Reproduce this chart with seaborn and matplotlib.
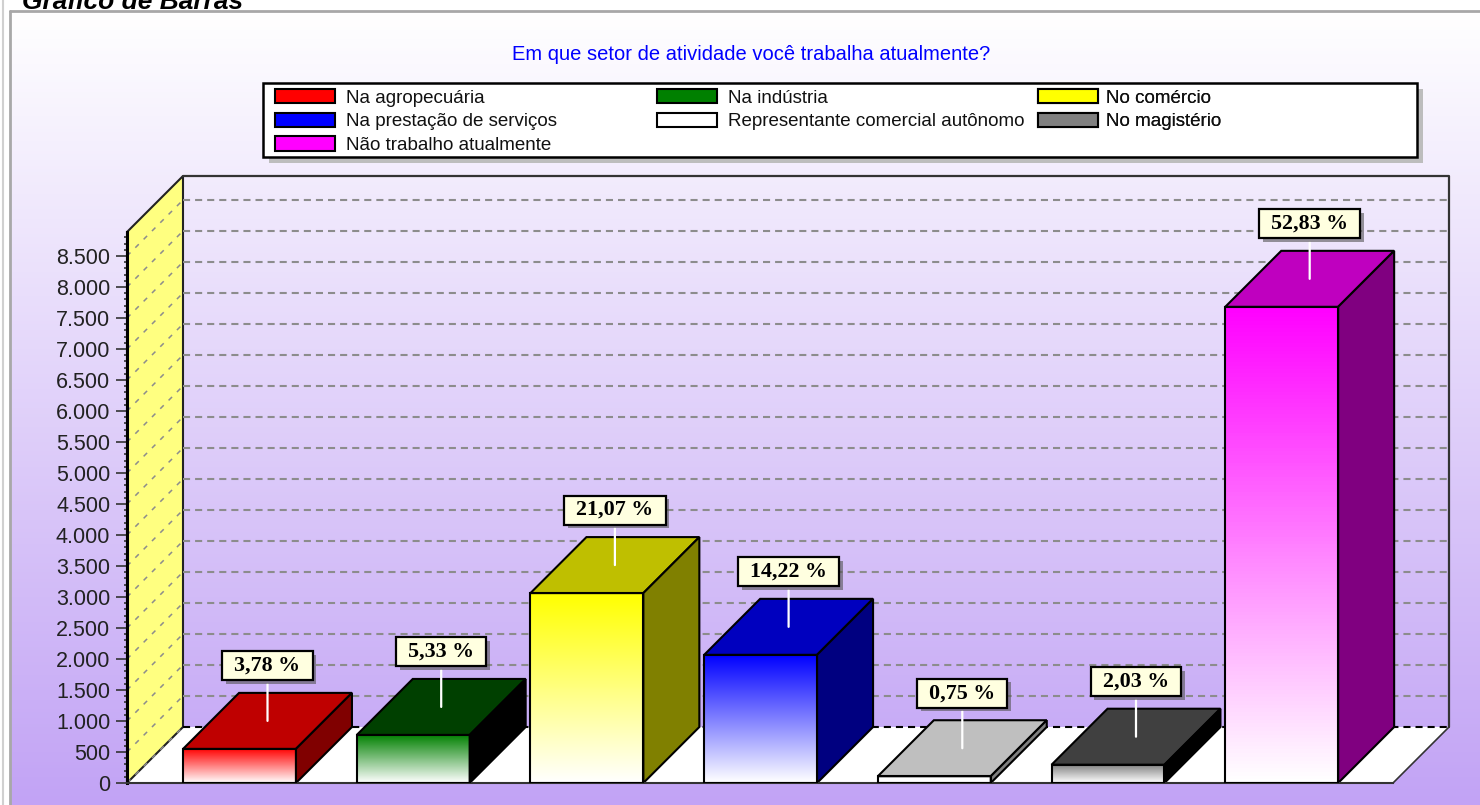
import numpy as np
import pandas as pd
import matplotlib.pyplot as plt
import seaborn as sns
import matplotlib.patheffects as pe
from matplotlib.colors import LinearSegmentedColormap, to_rgb
from matplotlib.patches import Patch, Polygon, Rectangle
from matplotlib.path import Path
from matplotlib.ticker import FuncFormatter, MultipleLocator

# dados
setores = ["Na agropecuária", "Na indústria", "No comércio",
           "Na prestação de serviços", "Representante comercial autônomo",
           "No magistério", "Não trabalho atualmente"]
valores = [550, 775, 3063, 2067, 109, 295, 7680]
percentuais = [3.78, 5.33, 21.07, 14.22, 0.75, 2.03, 52.83]
cores = ["#ff0000", "#008000", "#ffff00", "#0000ff", "#ffffff", "#808080", "#ff00ff"]
ticks = list(range(0, 9000, 500))

titulo = "Em que setor de atividade você trabalha atualmente?"
cabecalho = "Gráfico de Barras"

W, H = 1480, 805
sns.set_theme(style="white")
plt.rcParams["font.family"] = ["Liberation Sans", "DejaVu Sans"]


def caixa(x0, y0, w, h, mutation_size):
    # caixa do rotulo, mais folga nos lados do que em cima
    px, py = 12, 4.5
    x0, y0, x1, y1 = x0 - px, y0 - py, x0 + w + px, y0 + h + py
    return Path([(x0, y0), (x1, y0), (x1, y1), (x0, y1), (x0, y0)], closed=True)


def escurece(cor, quanto):
    # topo e lateral das barras: tira um tanto de cada canal que nao e zero
    return tuple(max(c - quanto, 0) if c > 0 else 0 for c in to_rgb(cor))


fig = plt.figure(figsize=(W / 100, H / 100), dpi=100, facecolor="white")

# fundo em coordenadas de pixel: degrade, moldura, titulo
bg = fig.add_axes([0, 0, 1, 1], zorder=0)
bg.set_axis_off()
fundo = LinearSegmentedColormap.from_list("fundo", ["#ffffff", "#c2a3f5"])
bg.imshow(np.linspace(0, 1, 256).reshape(-1, 1), cmap=fundo, aspect="auto",
          extent=(11, W, H, 12))
bg.set_xlim(0, W)
bg.set_ylim(H, 0)
bg.plot([10, 10], [11, H], color="#a8a8a8", lw=2)
bg.plot([10, W], [11, 11], color="#a8a8a8", lw=2)
bg.plot([3, 3], [0, H], color="#d0d0d0", lw=1.5)
bg.text(22, 9, cabecalho, fontsize=19, fontweight="bold", style="italic",
        color="black", va="baseline")
bg.text(751, 55, titulo, fontsize=14.5, color="#0000ff", ha="center", va="center")

# caixa da legenda com sombra
bg.add_patch(Rectangle((269, 89), 1154, 74, color="#bdbdbd", lw=0))
bg.add_patch(Rectangle((263, 83), 1154, 74, facecolor="white", edgecolor="black", lw=1.8))

# eixo principal = plano da frente do grafico
ax = fig.add_axes([127 / W, (H - 783) / H, 1266 / W, 551 / H], zorder=1)
ax.patch.set_visible(False)

df = pd.DataFrame({"setor": setores, "valor": valores})
sns.barplot(data=df, x="setor", y="valor", hue="setor", palette=cores, width=0.65,
            legend=False, edgecolor="black", linewidth=1.5, saturation=1, ax=ax)

xlim = (-0.6477, 6.6408)
ylim = (0, 8887)
dx = 56 / 173.7   # profundidade 3D em unidades de dados
dy = 56 / 0.062

# paredes e piso
ax.add_patch(Polygon([(xlim[0], 0), (xlim[1], 0), (xlim[1] + dx, dy), (xlim[0] + dx, dy)],
                     facecolor="white", edgecolor="none", zorder=0.5, clip_on=False))
ax.add_patch(Polygon([(xlim[0], 0), (xlim[0] + dx, dy), (xlim[0] + dx, ylim[1] + dy), (xlim[0], ylim[1])],
                     facecolor="#ffff80", edgecolor="#222222", lw=1.5, zorder=0.6, clip_on=False))
ax.plot([xlim[0] + dx, xlim[1] + dx, xlim[1] + dx],
        [ylim[1] + dy, ylim[1] + dy, dy], color="#333333", lw=1.6, zorder=0.7, clip_on=False)
ax.plot([xlim[1], xlim[1] + dx], [0, dy], color="#333333", lw=1.2, zorder=0.7, clip_on=False)

# grade na parede do fundo e na parede lateral
for t in ticks:
    cor_grade = "black" if t == 0 else "#8c8c8c"
    ax.plot([xlim[0] + dx, xlim[1] + dx], [t + dy, t + dy], color=cor_grade, lw=1.5,
            dashes=(3.4, 2.4), zorder=0.8, clip_on=False)
    ax.plot([xlim[0], xlim[0] + dx], [t, t + dy], color="#8c8c8c", lw=1.1,
            dashes=(3.2, 4.5), zorder=0.8, clip_on=False)

# barras: degrade na frente, topo e lateral
for barra, cor, pct in zip(ax.patches, cores, percentuais):
    x0 = barra.get_x()
    x1 = x0 + barra.get_width()
    v = barra.get_height()
    mapa = LinearSegmentedColormap.from_list("b", [cor, "#ffffff"])
    img = ax.imshow(np.linspace(0, 1, 128).reshape(-1, 1), cmap=mapa, aspect="auto",
                    extent=(x0, x1, 0, v), origin="upper", zorder=2)
    barra.set_facecolor("none")
    barra.set_zorder(3)
    ax.add_patch(Polygon([(x0, v), (x1, v), (x1 + dx, v + dy), (x0 + dx, v + dy)],
                         facecolor=escurece(cor, 0.25), edgecolor="black", lw=1.5, zorder=2.5, clip_on=False))
    ax.add_patch(Polygon([(x1, 0), (x1 + dx, dy), (x1 + dx, v + dy), (x1, v)],
                         facecolor=escurece(cor, 0.5), edgecolor="black", lw=1.5, zorder=2.5, clip_on=False))
    rotulo = f"{pct:.2f}".replace(".", ",") + " %"
    an = ax.annotate(rotulo, xy=((x0 + x1) / 2 + dx / 2, v + dy / 2), xytext=(0, 55),
                     textcoords="offset pixels", ha="center", va="center",
                     fontsize=15.8, fontweight="bold", family="Liberation Serif", color="black",
                     bbox=dict(boxstyle=caixa, facecolor="#ffffe0", edgecolor="black", lw=1.6),
                     arrowprops=dict(arrowstyle="-", color="white", lw=1.6, shrinkA=2, shrinkB=0),
                     zorder=5, annotation_clip=False)
    an.get_bbox_patch().set_path_effects([
        pe.withSimplePatchShadow(offset=(2.5, -2.5), shadow_rgbFace="#555555", alpha=0.6)])

ax.set_xlim(xlim)
ax.set_ylim(ylim)
ax.set_xlabel("")
ax.set_ylabel("")
ax.set_xticks([])
ax.set_yticks(ticks)
ax.yaxis.set_major_formatter(FuncFormatter(lambda v, pos: f"{int(v):,}".replace(",", ".")))
ax.yaxis.set_minor_locator(MultipleLocator(100))
ax.tick_params(axis="y", which="major", left=True, length=8, width=1.2, color="#333333",
               labelsize=15.5, labelcolor="#222222", pad=4)
ax.tick_params(axis="y", which="minor", left=True, length=2.5, width=1.2, color="#333333")
sns.despine(ax=ax, top=True, right=True)
ax.spines["left"].set_linewidth(2.2)
ax.spines["left"].set_color("black")
ax.spines["left"].set_zorder(1)
ax.spines["bottom"].set_color("#333333")
ax.spines["bottom"].set_linewidth(1.5)

# legenda em tres colunas, lida da esquerda para a direita
colunas = [(275, [0, 3, 6], 0.6), (657, [1, 4], 0.6), (1038, [2, 5], 0.4)]
for px, idx, folga in colunas:
    handles = [Patch(facecolor=cores[i], edgecolor="black", lw=1.5) for i in idx]
    leg = ax.legend(handles, [setores[i] for i in idx], loc="upper left",
                    bbox_to_anchor=(px / W, 1 - 89 / H), bbox_transform=fig.transFigure,
                    frameon=False, fontsize=13.5, borderpad=0, borderaxespad=0,
                    handlelength=3.2, handleheight=0.8, handletextpad=folga, labelspacing=0.32)
    for txt in leg.get_texts():
        txt.set_color("#111111")
    ax.add_artist(leg)

fig.savefig("out.png", dpi=100)
